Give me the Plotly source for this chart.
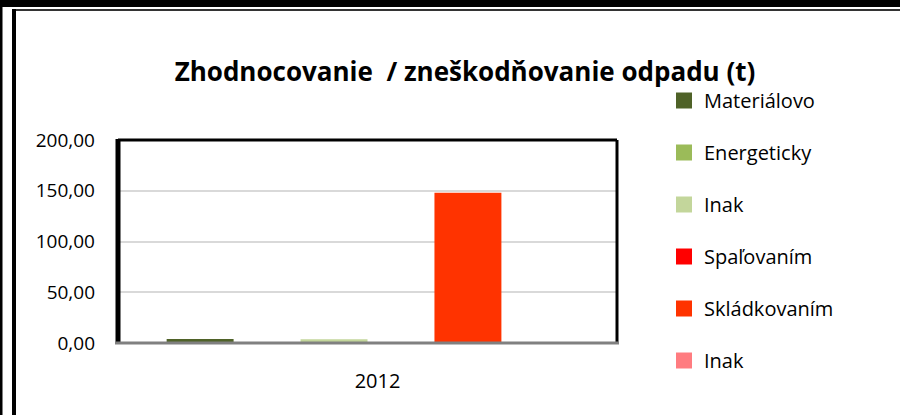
import plotly.graph_objects as go

categories = ["2012"]
series_names = ["Materiálovo", "Energeticky", "Inak", "Spaľovaním", "Skládkovaním", "Inak"]
series_values = [4.0, 0.0, 3.8, 0.0, 148.0, 0.0]
series_colors = ["#4f6228", "#9bbb59", "#c3d69b", "#ff0000", "#ff3300", "#ff7c80"]
y_tickvals = [0, 50, 100, 150, 200]
y_ticktext = ["0,00", "50,00", "100,00", "150,00", "200,00"]
title_text = "Zhodnocovanie  / zneškodňovanie odpadu (t)"

W, H = 900, 415
L, R, T, B = 118, 617, 140, 343  # plot area pixel bounds

FONT = "Open Sans"

fig = go.Figure()
for i, (name, val, col) in enumerate(zip(series_names, series_values, series_colors)):
    fig.add_trace(go.Bar(x=categories, y=[val], name=name, marker_color=col,
                         marker_line_width=0, showlegend=False,
                         offsetgroup=str(i)))
for i, (name, col) in enumerate(zip(series_names, series_colors)):
    fig.add_trace(go.Scatter(x=[None], y=[None], mode="markers", name=name,
                             marker=dict(symbol="square", size=16, color=col),
                             legendgroup="g%d" % i, showlegend=True))


def px_x(px):
    return (px - L) / (R - L)


def px_y(py):
    return (B - py) / (B - T)


def hline(y, x0, x1, w, c):
    return dict(type="line", xref="paper", yref="paper", x0=px_x(x0), x1=px_x(x1),
                y0=px_y(y), y1=px_y(y), line=dict(color=c, width=w), layer="above")


def vline(x, y0, y1, w, c):
    return dict(type="line", xref="paper", yref="paper", x0=px_x(x), x1=px_x(x),
                y0=px_y(y0), y1=px_y(y1), line=dict(color=c, width=w), layer="above")


shapes = [
    # outer frame
    hline(3.5, 0, 900, 7, "black"),
    hline(10, 12, 900, 2, "#333333"),
    vline(1, 7, 415, 3, "black"),
    vline(14, 9, 415, 4, "black"),
    # plot area border
    hline(T, L, R, 3, "black"),
    vline(R, T, B, 3, "black"),
    vline(L, T - 1, B, 5, "black"),
    hline(B, 115, 619, 3, "#808080"),
]

fig.update_layout(
    width=W, height=H,
    margin=dict(l=L, r=W - R, t=T, b=H - B, pad=0),
    paper_bgcolor="white", plot_bgcolor="white",
    font=dict(family=FONT, size=18, color="black"),
    title=dict(text="<b>" + title_text + "</b>", x=465 / W, xref="container", xanchor="center",
               y=1 - 72 / H, yref="container", yanchor="middle",
               font=dict(family=FONT, size=26, color="black")),
    barmode="group", bargap=0.195, bargroupgap=0,
    xaxis=dict(showgrid=False, showline=False, zeroline=False, ticks="",
               ticklabelshift=10, ticklabelstandoff=24, tickfont=dict(size=20)),
    yaxis=dict(range=[0, 200], tickvals=y_tickvals, ticktext=y_ticktext, showgrid=True,
               gridcolor="#d9d9d9", gridwidth=2, zeroline=False, showline=False, ticks="",
               ticklabelstandoff=22, tickfont=dict(size=19)),
    legend=dict(x=px_x(664), y=px_y(81), xanchor="left", yanchor="top",
                font=dict(family=FONT, size=20), tracegroupgap=23, itemwidth=30,
                bgcolor="rgba(0,0,0,0)", itemsizing="trace", maxheight=400),
    shapes=shapes,
)

post = (
    "var s=document.createElement('style');"
    "s.textContent='html,body{margin:0;padding:0;overflow:hidden;height:415px;}"
    "::-webkit-scrollbar{display:none;width:0;height:0;}"
    "html{scrollbar-width:none;}';"
    "document.head.appendChild(s);"
)

fig.write_html("out.html", config={"displayModeBar": False}, post_script=post)
